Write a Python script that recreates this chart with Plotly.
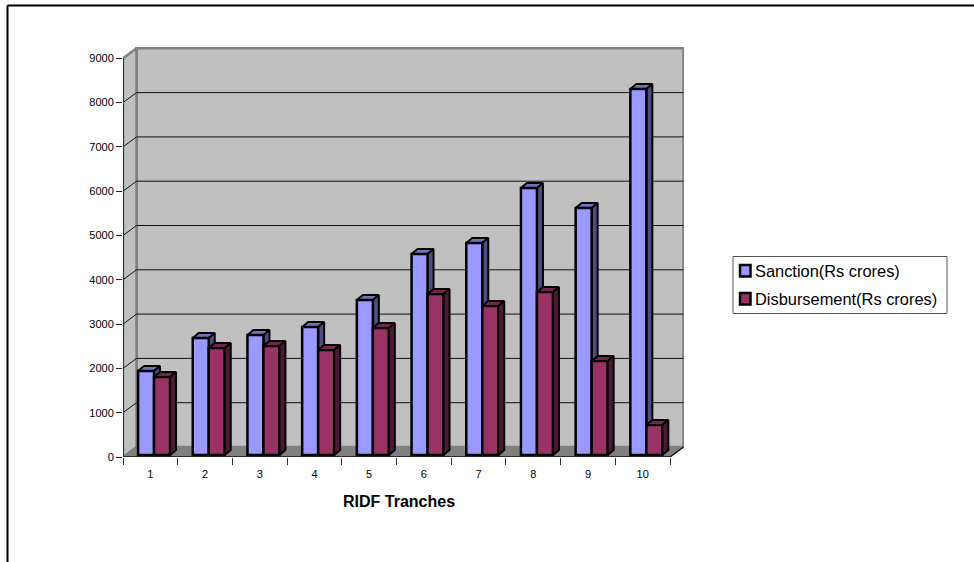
import plotly.graph_objects as go

# RIDF tranche figures, Rs crores
tranches = list(range(1, 11))
sanction = [1896, 2641, 2709, 2889, 3499, 4537, 4786, 6027, 5576, 8262]
disbursement = [1760, 2415, 2460, 2370, 2867, 3634, 3363, 3679, 2122, 677]
y_ticks = list(range(0, 10000, 1000))
series_names = ["Sanction(Rs crores)", "Disbursement(Rs crores)"]
axis_title = "RIDF Tranches"

# Page geometry in pixels
WIDTH, HEIGHT = 974, 562
PLOT_L, PLOT_R, PLOT_T, PLOT_B = 123, 684, 47, 457
CAT_PX = 54.7
VAL_PX = 0.0443

x_range = [0.5, 0.5 + (PLOT_R - PLOT_L) / CAT_PX]
y_range = [0, (PLOT_B - PLOT_T) / VAL_PX]


def dx(px):
    return px / CAT_PX


def dy(px):
    return px / VAL_PX


def paper_x(px):
    return (px - PLOT_L) / (PLOT_R - PLOT_L)


def paper_y(px):
    return (PLOT_B - px) / (PLOT_B - PLOT_T)


# Oblique offsets for the chart box and the bars
WALL_X, WALL_Y = dx(13.5), dy(10)
BAR_X, BAR_Y = dx(6), dy(5)
BAR_BASE = dy(2)
BAR_W = dx(16)
S_OFF = dx(-12.3)
D_OFF = dx(3.7)

x_lo, x_hi = 0.5, 10.5
top = y_ticks[-1]

fig = go.Figure()


def poly(xs, ys, fill=None, line="#000000", width=1.0, z=0, clip=False):
    fig.add_trace(go.Scatter(
        x=xs, y=ys, mode="lines",
        fill="toself" if fill else "none",
        fillcolor=fill,
        line=dict(color=line, width=width),
        hoverinfo="skip", showlegend=False, zorder=z, cliponaxis=clip,
    ))


# Back wall, side wall and floor
poly([x_lo + WALL_X, x_hi + WALL_X, x_hi + WALL_X, x_lo + WALL_X, x_lo + WALL_X],
     [WALL_Y, WALL_Y, top + WALL_Y, top + WALL_Y, WALL_Y],
     fill="#C0C0C0", line="#808080", width=2.5, z=0)
poly([x_lo, x_lo + WALL_X, x_lo + WALL_X, x_lo, x_lo],
     [0, WALL_Y, top + WALL_Y, top, 0],
     fill="#C0C0C0", line="#808080", width=2.5, z=0)
poly([x_lo, x_hi, x_hi + WALL_X, x_lo + WALL_X, x_lo],
     [0, 0, WALL_Y, WALL_Y, 0],
     fill="#808080", line="#808080", width=1, z=0)

# Gridlines run along the side wall and across the back wall
for v in y_ticks[1:-1]:
    poly([x_lo, x_lo + WALL_X, x_hi + WALL_X],
         [v, v + WALL_Y, v + WALL_Y], line="#111111", width=1, z=1)

# Value axis and category axis lines
poly([x_lo, x_lo], [0, top], line="#333333", width=2, z=1)
poly([x_lo, x_hi, x_hi + WALL_X], [0, 0, WALL_Y], line="#111111", width=1.5, z=1, clip=False)


def depth_faces(values, offset, top_fill, side_fill, z):
    """Top and right-hand faces of one series' bars."""
    for cat, v in zip(tranches, values):
        x0 = cat + offset
        x1 = x0 + BAR_W
        t = BAR_BASE + v
        poly([x0, x0 + BAR_X, x1 + BAR_X, x1, x0],
             [t, t + BAR_Y, t + BAR_Y, t, t],
             fill=top_fill, width=2, z=z, clip=False)
        poly([x1, x1 + BAR_X, x1 + BAR_X, x1, x1],
             [BAR_BASE, BAR_BASE + BAR_Y, t + BAR_Y, t, BAR_BASE],
             fill=side_fill, width=2, z=z, clip=False)


def front_faces(values, offset, colour, name, z):
    fig.add_trace(go.Bar(
        x=tranches, y=values, base=BAR_BASE, width=BAR_W, offset=offset,
        name=name, marker=dict(color=colour, line=dict(color="#000000", width=2.5)),
        showlegend=False, zorder=z,
    ))


depth_faces(sanction, S_OFF, "#7373BF", "#4D4D80", 2)
front_faces(sanction, S_OFF, "#9999FF", series_names[0], 3)
front_faces(disbursement, D_OFF, "#993366", series_names[1], 4)
depth_faces(disbursement, D_OFF, "#73264D", "#4D1A33", 5)

# Chart frame and legend box
frame_x, frame_y = 7.5, 5.5
shapes = [
    dict(type="line", xref="paper", yref="paper", x0=paper_x(frame_x), x1=paper_x(WIDTH + 2),
         y0=paper_y(frame_y), y1=paper_y(frame_y), line=dict(color="#000000", width=2)),
    dict(type="line", xref="paper", yref="paper", x0=paper_x(frame_x), x1=paper_x(frame_x),
         y0=paper_y(frame_y), y1=paper_y(HEIGHT + 2), line=dict(color="#000000", width=2)),
    dict(type="rect", xref="paper", yref="paper", x0=paper_x(733), x1=paper_x(947),
         y0=paper_y(256.5), y1=paper_y(313.5), line=dict(color="#555555", width=1), fillcolor="#FFFFFF"),
]
annotations = [
    dict(text="<b>" + axis_title + "</b>", xref="paper", yref="paper", showarrow=False,
         x=paper_x(398.5), y=paper_y(501), xanchor="center", yanchor="middle",
         font=dict(size=16, color="#000000")),
]
for name, colour, row_y in zip(series_names, ["#9999FF", "#993366"], [271, 299]):
    shapes.append(dict(type="rect", xref="paper", yref="paper",
                       x0=paper_x(740), x1=paper_x(750.5),
                       y0=paper_y(row_y - 6), y1=paper_y(row_y + 5.5),
                       line=dict(color="#000000", width=2.5), fillcolor=colour))
    annotations.append(dict(text=name, xref="paper", yref="paper", showarrow=False,
                            x=paper_x(753), y=paper_y(row_y), xanchor="left", yanchor="middle",
                            font=dict(size=16.4, color="#000000")))

fig.update_layout(
    width=WIDTH, height=HEIGHT, autosize=False,
    margin=dict(l=PLOT_L, r=WIDTH - PLOT_R, t=PLOT_T, b=HEIGHT - PLOT_B, pad=0),
    paper_bgcolor="#FFFFFF", plot_bgcolor="rgba(0,0,0,0)",
    font=dict(family="Liberation Sans, Arial, sans-serif", color="#000000", size=11),
    barmode="overlay", showlegend=False,
    shapes=shapes, annotations=annotations,
    xaxis=dict(
        range=x_range, tickvals=tranches, ticktext=[str(t) for t in tranches],
        ticks="", ticklen=0, showgrid=False, zeroline=False, showline=False,
        tickfont=dict(size=11), ticklabelstandoff=9,
        minor=dict(tickvals=[t - 0.5 for t in tranches] + [10.5], ticks="outside",
                   ticklen=7, tickcolor="#333333", tickwidth=1, showgrid=False),
    ),
    yaxis=dict(
        range=y_range, tickvals=y_ticks, ticks="outside", ticklen=6, tickcolor="#222222",
        tickwidth=1, showgrid=False, zeroline=False, showline=False,
        tickfont=dict(size=11),
    ),
)

fig.write_html("out.html", config=dict(displayModeBar=False))
